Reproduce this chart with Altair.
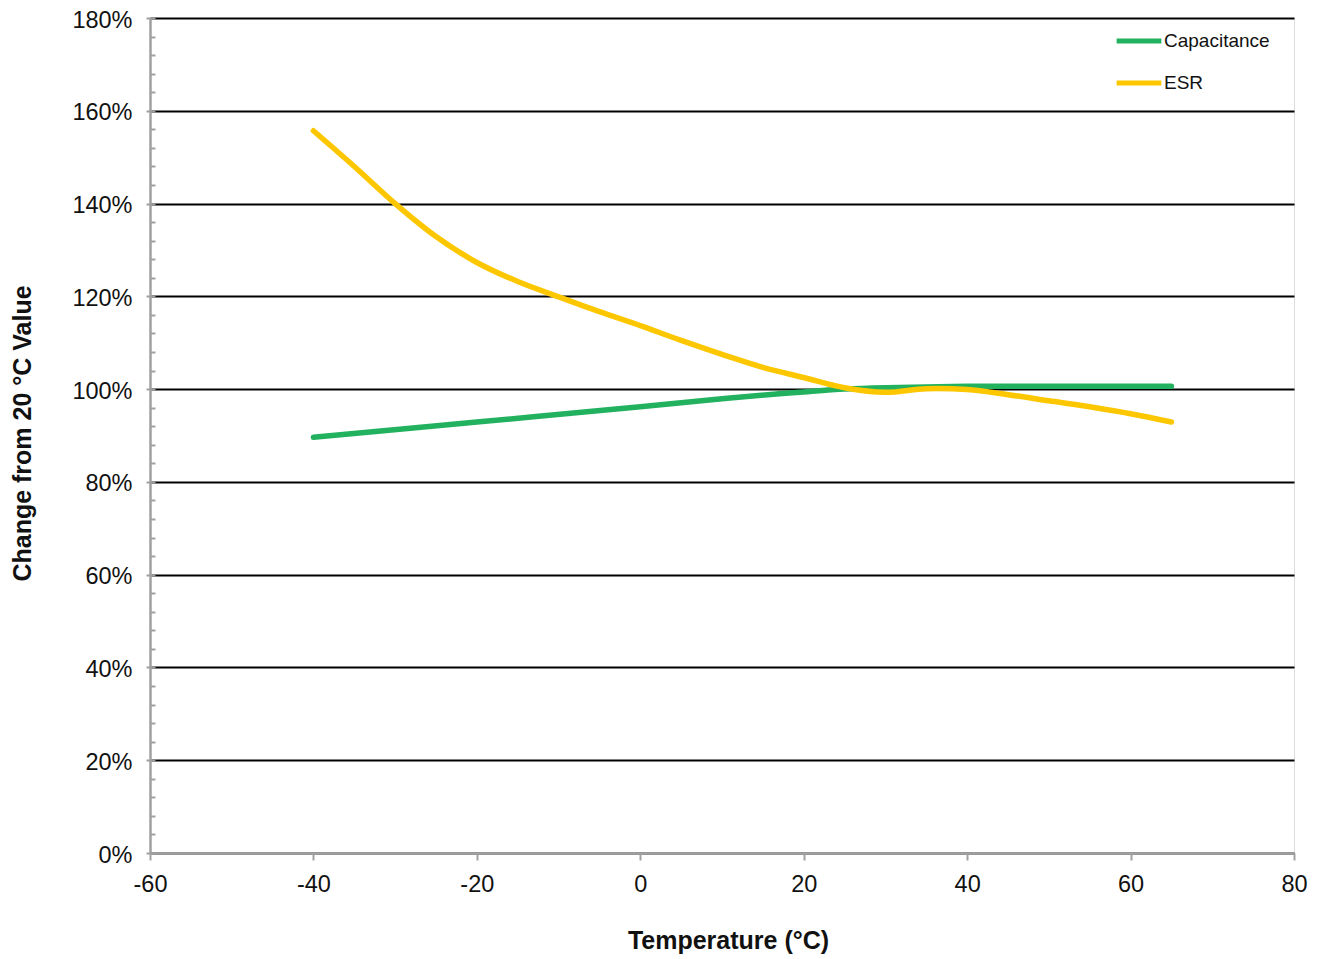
import altair as alt
import pandas as pd

esr_temp = [-40, -35, -30, -25, -20, -15, -10, -5, 0, 5, 10, 15, 20, 25, 30, 35, 40, 45, 50, 55, 60, 65]
esr_vals = [155.7, 148.0, 140.0, 132.9, 127.3, 123.2, 119.9, 116.7, 113.7, 110.5, 107.5, 104.7,
            102.5, 100.3, 99.3, 100.1, 99.9, 98.8, 97.5, 96.2, 94.7, 92.9]
cap_temp = [-40, -20, 0, 10, 17, 20, 25, 30, 40, 50, 65]
cap_vals = [89.6, 92.9, 96.2, 97.9, 99.0, 99.4, 100.0, 100.3, 100.6, 100.6, 100.6]
series = ["Capacitance", "ESR"]
colors = ["#22b15e", "#fdc700"]
y_major = list(range(0, 181, 20))
y_minor = list(range(0, 181, 4))
x_ticks = list(range(-60, 81, 20))

df = pd.concat([
    pd.DataFrame({"t": cap_temp, "v": [v / 100 for v in cap_vals], "s": series[0]}),
    pd.DataFrame({"t": esr_temp, "v": [v / 100 for v in esr_vals], "s": series[1]}),
])

FONT = "Liberation Sans"
GREY = "#a0a0a0"
TXT = "#111111"

xscale = alt.Scale(domain=[-60, 80], nice=False, zero=False)
yscale = alt.Scale(domain=[0, 1.8], nice=False)

lines = alt.Chart(df).mark_line(strokeWidth=5.5, strokeCap="round", interpolate="catmull-rom").encode(
    x=alt.X("t:Q", scale=xscale, axis=alt.Axis(
        values=x_ticks, labelExpr="datum.value + ''", labelFlush=False, title="Temperature (°C)",
        grid=False, domainColor=GREY, domainWidth=2.5, tickColor=GREY, tickWidth=2, tickSize=7,
        labelFontSize=23.5, labelFont=FONT, labelColor=TXT, labelPadding=12,
        titleFont=FONT, titleFontSize=25, titleFontWeight="bold", titleColor=TXT,
        titleY=87, titleX=578, titleBaseline="middle")),
    y=alt.Y("v:Q", scale=yscale, axis=alt.Axis(
        orient="left", values=[v / 100 for v in y_major], format=".0%", title="Change from 20 °C Value",
        grid=True, gridColor="#000", gridWidth=2, domainColor=GREY, domainWidth=2.5,
        tickColor=GREY, tickWidth=2, tickSize=4, labelFontSize=23.5, labelFont=FONT, labelColor=TXT,
        labelPadding=14, labelOffset=2, labelFlush=False, titleFont=FONT, titleFontSize=25,
        titleFontWeight="bold", titleColor=TXT, titleX=-128, titleY=415, titleBaseline="middle",
        titleAngle=270)),
    color=alt.Color("s:N", scale=alt.Scale(domain=series, range=colors), legend=alt.Legend(
        title=None, orient="none", legendX=964, legendY=-2, symbolType="stroke", symbolSize=2000,
        symbolStrokeWidth=5, labelFontSize=19, labelFont=FONT, labelColor=TXT, labelOffset=0,
        rowPadding=7)),
)

minor = alt.Chart(pd.DataFrame({"v": [v / 100 for v in y_minor]})).mark_point(opacity=0).encode(
    y=alt.Y("v:Q", scale=yscale, axis=alt.Axis(
        orient="left", values=[v / 100 for v in y_minor], labels=False, title=None, grid=False,
        domain=False, tickColor=GREY, tickWidth=2, tickSize=5, offset=-5)),
)

chart = alt.layer(minor, lines).resolve_axis(y="independent").properties(
    width=1144, height=835,
    autosize=alt.AutoSizeParams(type="none"),
    padding={"left": 142, "top": 10, "right": 20, "bottom": 105},
).configure_view(stroke=None).configure(background="white")

chart.save("out.html", embed_options={"renderer": "svg", "actions": False})
